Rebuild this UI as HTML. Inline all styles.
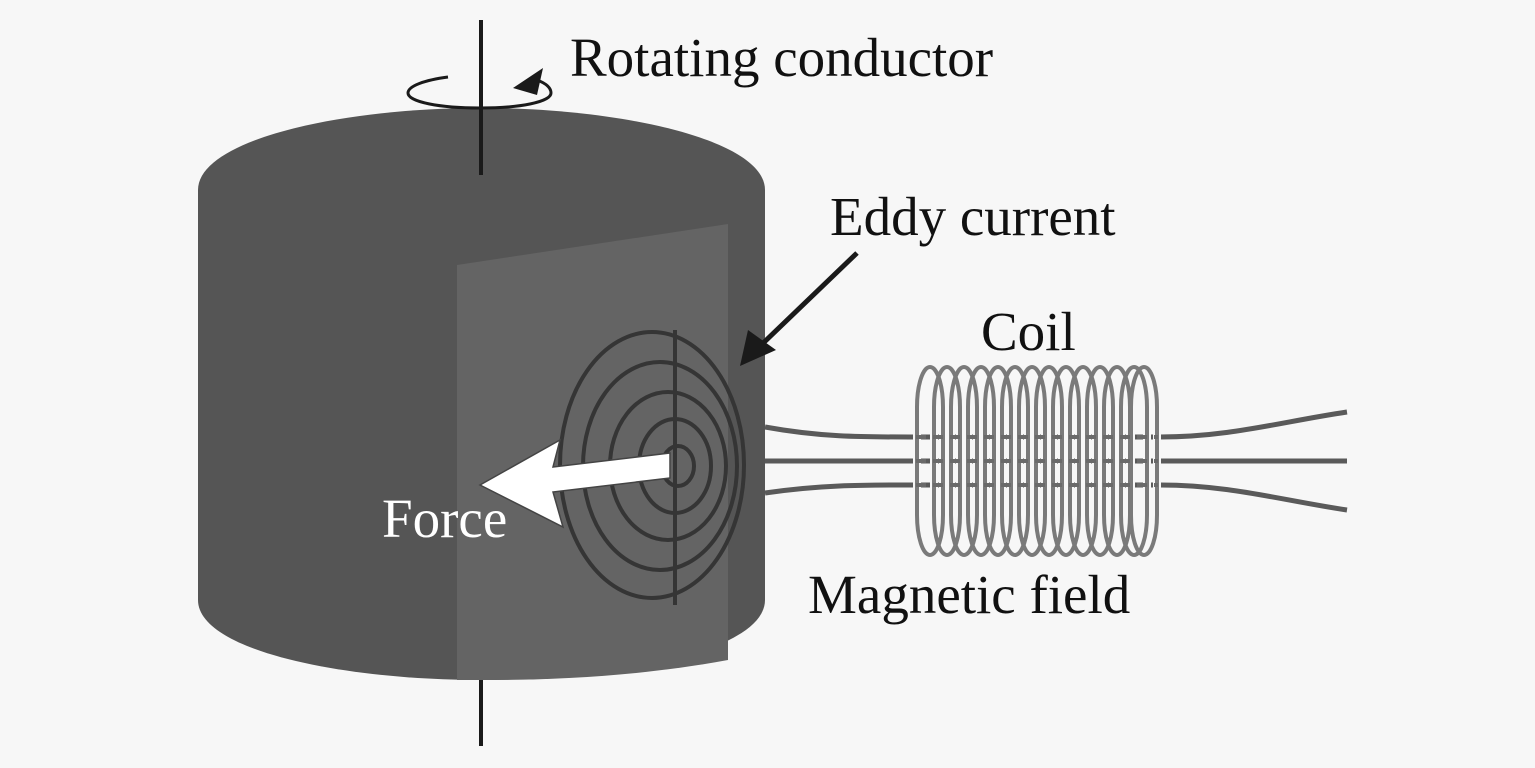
<!DOCTYPE html>
<html><head><style>
html,body{margin:0;padding:0;background:#f7f7f7;}
svg{display:block;}
text{font-family:"Liberation Serif",serif;font-size:55px;fill:#111;}
</style></head><body>
<svg width="1535" height="768" viewBox="0 0 1535 768" xmlns="http://www.w3.org/2000/svg">
<rect width="1535" height="768" fill="#f7f7f7"/>
<line x1="481" y1="670" x2="481" y2="746" stroke="#1a1a1a" stroke-width="4"/>
<path d="M198,190 C198,140 340,108 481,108 C622,108 765,140 765,190 L765,600 C765,650 622,680 481,680 C340,680 198,650 198,600 Z" fill="#555555"/>
<path d="M457,265 L728,224 L728,660 C640,676 560,680 481,680 L457,680 Z" fill="#646464"/>
<line x1="481" y1="20" x2="481" y2="175" stroke="#1a1a1a" stroke-width="4"/>
<path d="M448,77 C425,80 408,86 408,93 C408,102 440,108 480,108 C520,108 551,102 551,93 C551,87 545,83 537,80" fill="none" stroke="#1a1a1a" stroke-width="3"/>
<path d="M513,88 L543,68 L537,95 Z" fill="#1a1a1a"/>
<g fill="none" stroke="#353535" stroke-width="4">
<ellipse cx="652" cy="465" rx="92" ry="133"/>
<ellipse cx="660" cy="466" rx="77" ry="104"/>
<ellipse cx="668" cy="466" rx="58" ry="74"/>
<ellipse cx="675" cy="466" rx="36" ry="47"/>
<ellipse cx="678" cy="466" rx="16" ry="20"/>
<line x1="675" y1="330" x2="675" y2="605"/>
</g>
<path d="M480,485 L560,440 L553,467 L670,453 L670,478 L553,492 L563,527 Z" fill="#ffffff" stroke="#444" stroke-width="1.5"/>
<line x1="857" y1="253" x2="758" y2="348" stroke="#1a1a1a" stroke-width="5"/>
<path d="M740,366 L748,330 L776,350 Z" fill="#1a1a1a"/>
<g fill="none" stroke="#5a5a5a" stroke-width="5">
<line x1="765" y1="461" x2="1347" y2="461"/>
<path d="M765,427 C820,437 860,437 910,437 L1160,437 C1230,437 1280,422 1347,412"/>
<path d="M765,493 C820,485 860,485 910,485 L1160,485 C1230,485 1280,500 1347,510"/>
</g>
<g fill="none">
<g stroke="#f7f7f7" stroke-width="8">
<rect x="917" y="367" width="26" height="188" rx="13" ry="40"/><rect x="934" y="367" width="26" height="188" rx="13" ry="40"/><rect x="951" y="367" width="26" height="188" rx="13" ry="40"/><rect x="968" y="367" width="26" height="188" rx="13" ry="40"/><rect x="985" y="367" width="26" height="188" rx="13" ry="40"/><rect x="1002" y="367" width="26" height="188" rx="13" ry="40"/><rect x="1019" y="367" width="26" height="188" rx="13" ry="40"/><rect x="1036" y="367" width="26" height="188" rx="13" ry="40"/><rect x="1053" y="367" width="26" height="188" rx="13" ry="40"/><rect x="1070" y="367" width="26" height="188" rx="13" ry="40"/><rect x="1087" y="367" width="26" height="188" rx="13" ry="40"/><rect x="1104" y="367" width="26" height="188" rx="13" ry="40"/><rect x="1121" y="367" width="26" height="188" rx="13" ry="40"/><rect x="1131" y="367" width="26" height="188" rx="13" ry="40"/>
</g>
<g stroke="#7a7a7a" stroke-width="4">
<rect x="917" y="367" width="26" height="188" rx="13" ry="40"/><rect x="934" y="367" width="26" height="188" rx="13" ry="40"/><rect x="951" y="367" width="26" height="188" rx="13" ry="40"/><rect x="968" y="367" width="26" height="188" rx="13" ry="40"/><rect x="985" y="367" width="26" height="188" rx="13" ry="40"/><rect x="1002" y="367" width="26" height="188" rx="13" ry="40"/><rect x="1019" y="367" width="26" height="188" rx="13" ry="40"/><rect x="1036" y="367" width="26" height="188" rx="13" ry="40"/><rect x="1053" y="367" width="26" height="188" rx="13" ry="40"/><rect x="1070" y="367" width="26" height="188" rx="13" ry="40"/><rect x="1087" y="367" width="26" height="188" rx="13" ry="40"/><rect x="1104" y="367" width="26" height="188" rx="13" ry="40"/><rect x="1121" y="367" width="26" height="188" rx="13" ry="40"/><rect x="1131" y="367" width="26" height="188" rx="13" ry="40"/>
</g>
</g>
<g stroke="#6a6a6a" stroke-width="4" stroke-dasharray="10 7">
<line x1="916" y1="437" x2="1158" y2="437"/>
<line x1="916" y1="461" x2="1158" y2="461"/>
<line x1="916" y1="485" x2="1158" y2="485"/>
</g>
<text x="570" y="76">Rotating conductor</text>
<text x="830" y="235">Eddy current</text>
<text x="981" y="350">Coil</text>
<text x="808" y="613">Magnetic field</text>
<text x="382" y="537" style="fill:#ffffff">Force</text>
</svg>
</body></html>
